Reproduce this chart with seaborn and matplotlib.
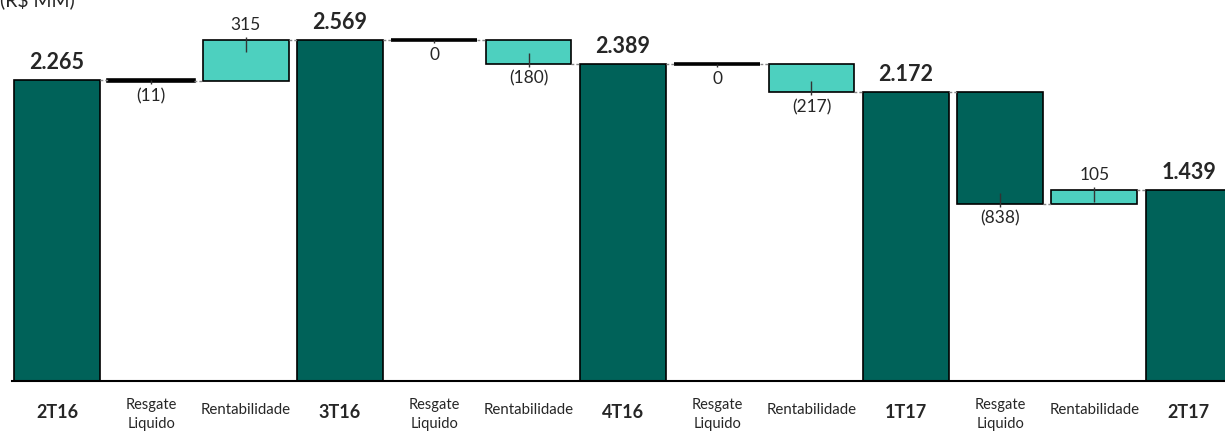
import matplotlib.pyplot as plt
import numpy as np
import pandas as pd
import seaborn as sns

# dados (R$ MM)
steps = ['2T16', 'Resgate\nLiquido', 'Rentabilidade', '3T16', 'Resgate\nLiquido', 'Rentabilidade',
         '4T16', 'Resgate\nLiquido', 'Rentabilidade', '1T17', 'Resgate\nLiquido', 'Rentabilidade', '2T17']
kinds = ['total', 'delta', 'delta', 'total', 'delta', 'delta', 'total',
         'delta', 'delta', 'total', 'delta', 'delta', 'total']
values = [2265, -11, 315, 2569, 0, -180, 2389, 0, -217, 2172, -838, 105, 1439]

sns.set_style('white')
plt.rcParams['font.family'] = ['Lato', 'DejaVu Sans']

dark = '#006259'
light = '#4DD0BF'

W, H = 1225, 434
fig = plt.figure(figsize=(W / 100, H / 100), dpi=100)
ax = fig.add_axes([12 / W, 53 / H, (W - 12) / W, 381 / H])

keys = [f's{i}' for i in range(len(steps))]
df = pd.DataFrame({'step': keys, 'kind': kinds, 'valor': values})
tot = df[df.kind == 'total']

bw = 0.91
sns.barplot(data=tot, x='step', y='valor', order=keys, color=dark, saturation=1,
            edgecolor='black', linewidth=1.2, width=bw, ax=ax)

ymax = 2867
px = ymax / 381.0  # data units per pixel
ax.set_xlim(-0.477, 12.385)
ax.set_ylim(0, ymax)

def fmt(v, total=False):
    if total:
        return f'{v:,}'.replace(',', '.')
    return f'({abs(v)})' if v < 0 else f'{v}'

level = 0
ends = []
for i, (k, v) in enumerate(zip(kinds, values)):
    if k == 'total':
        level = v
        ax.text(i, v + 7 * px, fmt(v, True), ha='center', va='bottom',
                fontsize=15.5, fontweight='bold')
    else:
        start = level
        level = level + v
        lo, hi = min(start, level), max(start, level)
        h = hi - lo
        if h < 3 * px:
            ax.bar(i, h, bottom=lo, width=bw, color='black', edgecolor='black', linewidth=2.6)
        else:
            col = dark if abs(v) > 500 else light
            ax.bar(i, h, bottom=lo, width=bw, color=col, edgecolor='black', linewidth=1.2)
        if v > 0:
            ax.vlines(i, hi - min(12 * px, h), hi + 3 * px, color='#333333', lw=1)
            ax.text(i, hi + 7 * px, fmt(v), ha='center', va='bottom', fontsize=12.5)
        else:
            ax.vlines(i, lo - 3 * px, lo + min(11 * px, h), color='#333333', lw=1)
            ax.text(i, lo - 7 * px, fmt(v), ha='center', va='top', fontsize=12.5)
    ends.append(level)

# conectores
for i in range(len(values) - 1):
    ax.hlines(ends[i], i + bw / 2, i + 1 - bw / 2, color='#888888', lw=1, linestyles=(0, (2, 1.5)))

ax.set_xticks(range(len(steps)))
ax.set_xticklabels([])
ax.tick_params(axis='x', length=0)
ax.set_yticks([])
ax.set_xlabel('')
ax.set_ylabel('')
for s in ['top', 'right', 'left']:
    ax.spines[s].set_visible(False)
ax.spines['bottom'].set_color('black')
ax.spines['bottom'].set_linewidth(1.5)

xt = ax.get_xaxis_transform()
for i, (lab, k) in enumerate(zip(steps, kinds)):
    if k == 'total':
        ax.text(i, -31 / 381, lab, transform=xt, ha='center', va='center',
                fontsize=13, fontweight='bold')
    elif '\n' in lab:
        ax.text(i, -17 / 381, lab, transform=xt, ha='center', va='top',
                fontsize=10.5, linespacing=1.45)
    else:
        ax.text(i, -29 / 381, lab, transform=xt, ha='center', va='center', fontsize=10.8)

fig.text(0.0, 1.0, '(R$ MM)', ha='left', va='center', fontsize=14)

fig.savefig('out.png', dpi=100)
